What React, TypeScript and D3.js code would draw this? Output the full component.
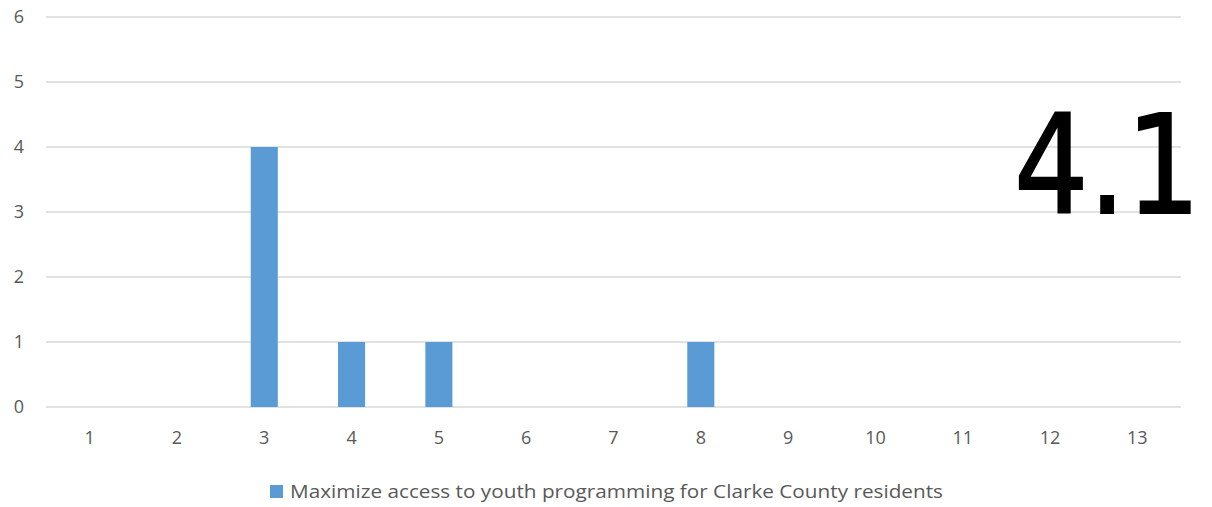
import React from "react";
import * as d3 from "d3";

const categories = ["1", "2", "3", "4", "5", "6", "7", "8", "9", "10", "11", "12", "13"];
const values = [0, 0, 4, 1, 1, 0, 0, 1, 0, 0, 0, 0, 0];
const yTicks = [0, 1, 2, 3, 4, 5, 6];
const seriesName = "Maximize access to youth programming for Clarke County residents";
const bigLabel = "4.1";

const W = 1212;
const H = 507;
const left = 46;
const right = 1181;
const top = 17;
const bottom = 407;
const font = "'Open Sans', 'Liberation Sans', sans-serif";

export default function App() {
  const x = d3.scaleBand<string>().domain(categories).range([left, right]).paddingInner(0.69).paddingOuter(0.345);
  const y = d3.scaleLinear().domain([0, 6]).range([bottom, top]);
  return (
    <svg width={W} height={H} style={{ position: "absolute", left: 0, top: 0, background: "#fff" }}>
      {yTicks.map((t) => (
        <g key={t}>
          <line x1={left} x2={right} y1={y(t)} y2={y(t)} stroke="#d9d9d9" strokeWidth={1.5} />
          <text x={24} y={y(t)} dy="0.36em" textAnchor="end" fontSize={18} fill="#595959" fontFamily={font}>
            {t}
          </text>
        </g>
      ))}
      {categories.map((c, i) => (
        <g key={c}>
          {values[i] > 0 && (
            <rect x={x(c)} y={y(values[i])} width={x.bandwidth()} height={y(0) - y(values[i])} fill="#5b9bd5" />
          )}
          <text x={(x(c) as number) + x.bandwidth() / 2} y={438} dy="0.36em" textAnchor="middle" fontSize={18} fill="#595959" fontFamily={font}>
            {c}
          </text>
        </g>
      ))}
      <g transform="translate(1014,213) scale(0.85,1)">
        <text x={0} y={0} fontSize={138} fill="#000" fontFamily="'DejaVu Sans', sans-serif" stroke="#000" strokeWidth={2}>
          {bigLabel}
        </text>
      </g>
      <rect x={270} y={485} width={13} height={13} fill="#5b9bd5" />
      <text x={290} y={491} dy="0.36em" fontSize={19} fill="#595959" fontFamily={font} textLength={653} lengthAdjust="spacingAndGlyphs">
        {seriesName}
      </text>
    </svg>
  );
}
